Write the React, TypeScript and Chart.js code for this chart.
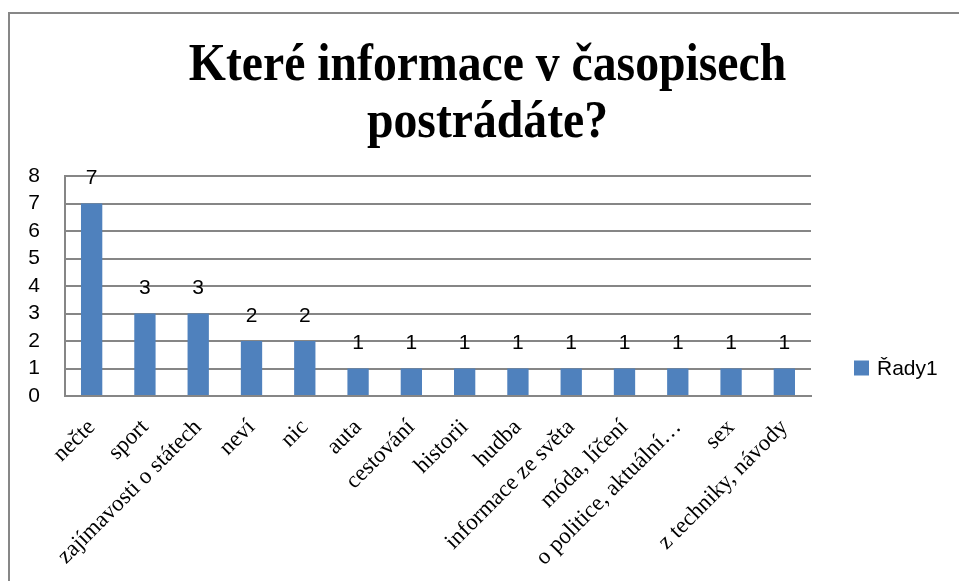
import React, { useEffect, useRef } from "react";
import { Chart, registerables } from "chart.js";

Chart.register(...registerables);

const titleLines = ["Které informace v časopisech", "postrádáte?"];
const seriesName = "Řady1";
const categories = [
  "nečte",
  "sport",
  "zajímavosti o státech",
  "neví",
  "nic",
  "auta",
  "cestování",
  "historii",
  "hudba",
  "informace ze světa",
  "móda, líčení",
  "o politice, aktuální…",
  "sex",
  "z techniky, návody",
];
const values = [7, 3, 3, 2, 2, 1, 1, 1, 1, 1, 1, 1, 1, 1];
const yMin = 0;
const yMax = 8;
const yStep = 1;

const BAR_COLOR = "#4F81BD";
const GRID_COLOR = "#868686";
const SANS = "'Liberation Sans', Arial, sans-serif";
const SERIF = "'Liberation Serif', 'Times New Roman', serif";

const titlePlugin = {
  id: "condensedTitle",
  afterDraw(chart: any) {
    const ctx = chart.ctx;
    const cx = chart.width / 2 + 3;
    const sx = 0.9;
    ctx.save();
    ctx.fillStyle = "#000";
    ctx.font = `bold 53px ${SERIF}`;
    ctx.textAlign = "center";
    ctx.textBaseline = "alphabetic";
    ctx.translate(cx, 0);
    ctx.scale(sx, 1);
    ctx.fillText(titleLines[0], 0, 66);
    ctx.fillText(titleLines[1], 0, 123);
    ctx.restore();
  },
};

const valueLabelPlugin = {
  id: "valueLabels",
  afterDatasetsDraw(chart: any) {
    const ctx = chart.ctx;
    ctx.save();
    ctx.font = `21px ${SANS}`;
    ctx.fillStyle = "#000";
    ctx.textAlign = "center";
    ctx.textBaseline = "middle";
    chart.data.datasets.forEach((ds: any, di: number) => {
      const meta = chart.getDatasetMeta(di);
      meta.data.forEach((bar: any, i: number) => {
        ctx.fillText(String(ds.data[i]), bar.x, bar.y - 25);
      });
    });
    ctx.restore();
  },
};

const legendPlugin = {
  id: "sideLegend",
  afterDraw(chart: any) {
    const ctx = chart.ctx;
    const area = chart.chartArea;
    const ds = chart.data.datasets[0];
    const x = area.right + 43;
    const yMid = area.top + 192;
    ctx.save();
    ctx.fillStyle = ds.backgroundColor;
    ctx.fillRect(x, yMid - 7.5, 15, 15);
    ctx.fillStyle = "#000";
    ctx.font = `21px ${SANS}`;
    ctx.textAlign = "left";
    ctx.textBaseline = "middle";
    ctx.fillText(ds.label, x + 23, yMid + 1);
    ctx.restore();
  },
};

export default function App() {
  const canvasRef = useRef<HTMLCanvasElement | null>(null);

  useEffect(() => {
    if (!canvasRef.current) return;
    const chart = new Chart(canvasRef.current, {
      type: "bar",
      data: {
        labels: categories,
        datasets: [
          {
            label: seriesName,
            data: values,
            backgroundColor: BAR_COLOR,
            borderWidth: 0,
            barPercentage: 0.4,
            categoryPercentage: 1.0,
          },
        ],
      },
      options: {
        animation: false,
        responsive: true,
        maintainAspectRatio: false,
        layout: { padding: { left: 0, right: 0, top: 162, bottom: 0 } },
        plugins: {
          legend: { display: false },
          tooltip: { enabled: false },
          title: { display: false },
        },
        scales: {
          x: {
            grid: { display: false, drawTicks: false },
            border: { display: true, color: GRID_COLOR, width: 2 },
            ticks: {
              autoSkip: false,
              maxRotation: 45,
              minRotation: 45,
              padding: 18,
              color: "#000",
              font: { family: SERIF, size: 23 },
            },
            afterFit(scale: any) {
              scale.height = 185;
            },
          },
          y: {
            min: yMin,
            max: yMax,
            grid: { color: GRID_COLOR, lineWidth: 2, drawTicks: false },
            border: { display: true, color: GRID_COLOR, width: 2 },
            ticks: {
              stepSize: yStep,
              autoSkip: false,
              padding: 25,
              color: "#000",
              font: { family: SANS, size: 21 },
            },
            afterFit(scale: any) {
              scale.width = 55;
            },
          },
          yRight: {
            type: "linear",
            position: "right",
            display: true,
            grid: { display: false, drawTicks: false },
            border: { display: false },
            ticks: { display: false },
            afterFit(scale: any) {
              scale.width = 148;
            },
          },
        },
      },
      plugins: [valueLabelPlugin, legendPlugin, titlePlugin],
    });
    return () => chart.destroy();
  }, []);

  return (
    <div
      style={{
        position: "fixed",
        left: 8,
        top: 12,
        width: 951,
        height: 569,
        boxSizing: "border-box",
        borderLeft: "2px solid #878787",
        borderTop: "2px solid #878787",
        background: "#fff",
      }}
    >
      <div style={{ position: "relative", width: 949, height: 567 }}>
        <canvas ref={canvasRef} />
      </div>
    </div>
  );
}
